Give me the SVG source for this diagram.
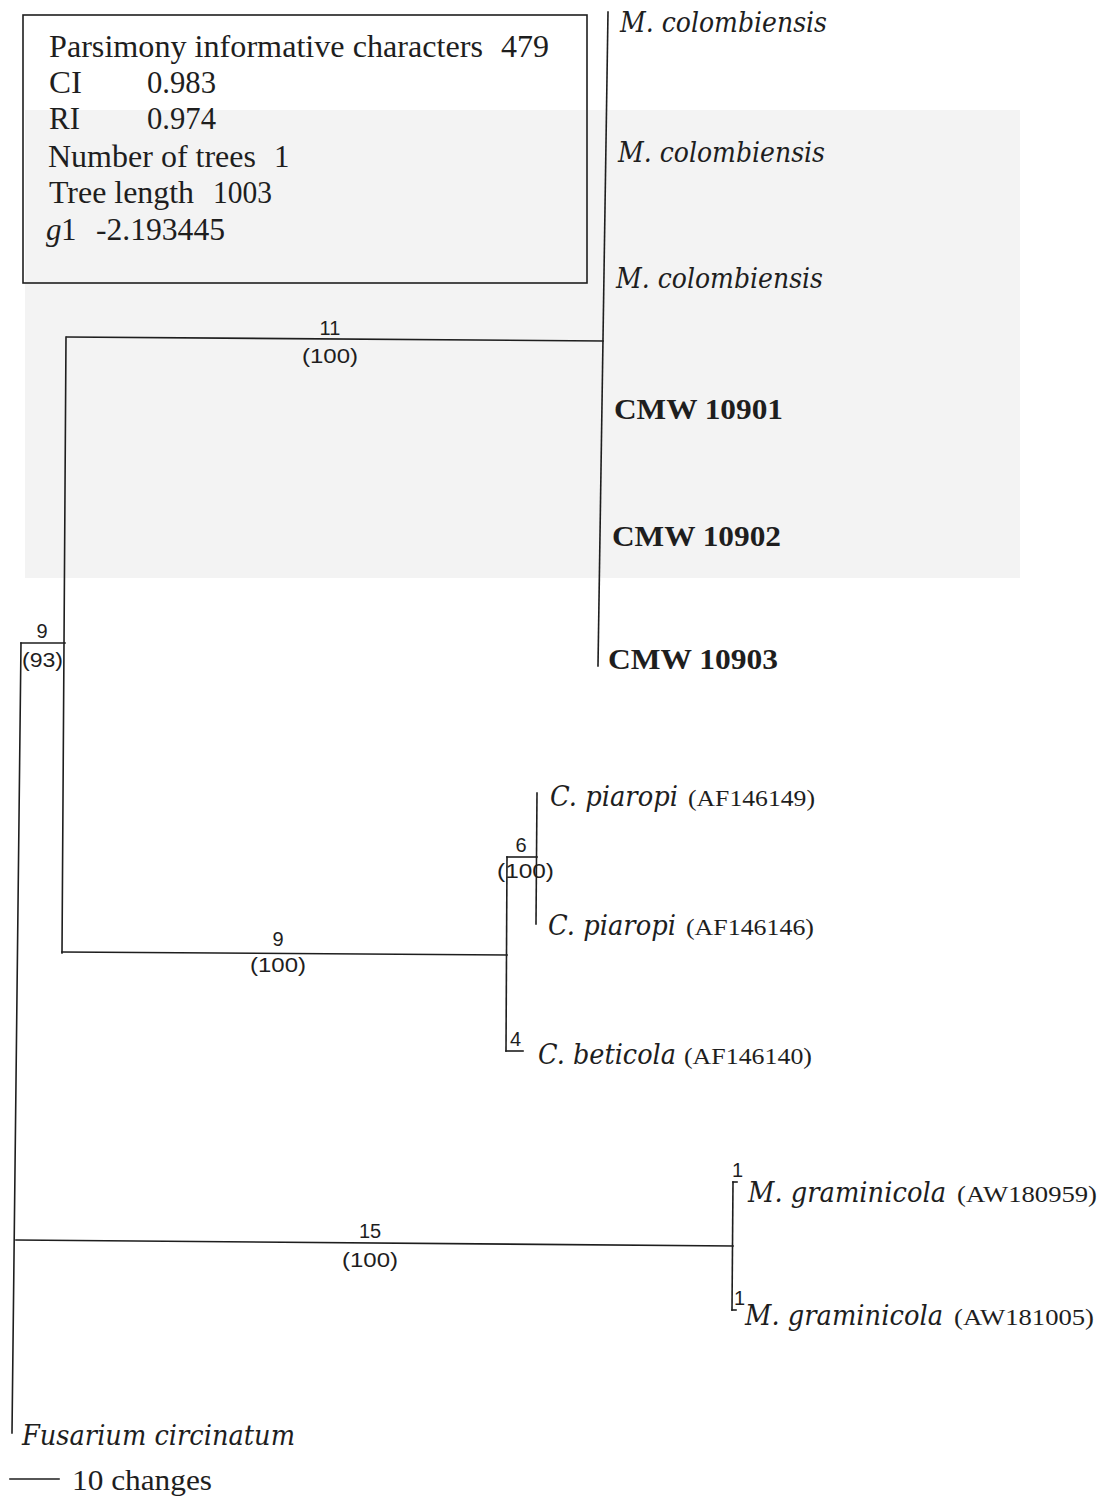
<svg xmlns="http://www.w3.org/2000/svg" width="1105" height="1497" viewBox="0 0 1105 1497">
<style>
.ln{stroke:#1e1e1e;stroke-width:1.6;fill:none;stroke-linecap:square}
.box{font-family:"Liberation Serif","Times New Roman",serif;font-size:31px;fill:#1e1e1e}
.tx{font-family:"DejaVu Serif","Liberation Serif",serif;font-style:italic;font-size:28px;fill:#1e1e1e}
.cmw{font-family:"Liberation Serif","Times New Roman",serif;font-weight:bold;font-size:30px;fill:#1e1e1e}
.acc{font-family:"Liberation Serif","Times New Roman",serif;font-size:23px;fill:#1e1e1e}
.num{font-family:"Liberation Sans",Arial,sans-serif;font-size:20px;fill:#1e1e1e}
.sc{font-family:"Liberation Serif","Times New Roman",serif;font-size:30px;fill:#1e1e1e}
</style>
<rect width="1105" height="1497" fill="#ffffff"/>
<rect x="25" y="110" width="995" height="468" fill="#f3f3f3"/>
<g id="infobox">
<rect x="23" y="15" width="564" height="268" class="ln" fill="none"/>
<text class="box" x="49" y="57" textLength="434" lengthAdjust="spacingAndGlyphs">Parsimony informative characters</text>
<text class="box" x="501" y="57" textLength="48" lengthAdjust="spacingAndGlyphs">479</text>
<text class="box" x="49" y="93" textLength="33" lengthAdjust="spacingAndGlyphs">CI</text>
<text class="box" x="147" y="93" textLength="69" lengthAdjust="spacingAndGlyphs">0.983</text>
<text class="box" x="49" y="129" textLength="31" lengthAdjust="spacingAndGlyphs">RI</text>
<text class="box" x="147" y="129" textLength="69" lengthAdjust="spacingAndGlyphs">0.974</text>
<text class="box" x="48" y="167" textLength="208" lengthAdjust="spacingAndGlyphs">Number of trees</text>
<text class="box" x="274" y="167">1</text>
<text class="box" x="49" y="203" textLength="145" lengthAdjust="spacingAndGlyphs">Tree length</text>
<text class="box" x="213" y="203" textLength="59" lengthAdjust="spacingAndGlyphs">1003</text>
<text class="box" x="46" y="240" font-style="italic">g</text><text class="box" x="61" y="240">1</text>
<text class="box" x="96" y="240" textLength="129" lengthAdjust="spacingAndGlyphs">-2.193445</text>
</g>
<g id="connectors">
<line class="ln" x1="608" y1="12" x2="598" y2="666"/>
<line class="ln" x1="67" y1="337" x2="603" y2="341"/>
<line class="ln" x1="66" y1="337" x2="62" y2="953"/>
<line class="ln" x1="62" y1="952" x2="507" y2="955"/>
<line class="ln" x1="507" y1="857" x2="506" y2="1051"/>
<line class="ln" x1="507" y1="857" x2="537" y2="857"/>
<line class="ln" x1="537" y1="793" x2="536" y2="924"/>
<line class="ln" x1="506" y1="1051" x2="523" y2="1051"/>
<line class="ln" x1="21" y1="643" x2="65" y2="643"/>
<line class="ln" x1="21" y1="643" x2="12" y2="1433"/>
<line class="ln" x1="16" y1="1240" x2="733" y2="1246"/>
<line class="ln" x1="733" y1="1182" x2="732" y2="1310"/>
<line class="ln" x1="733" y1="1182" x2="737" y2="1182"/>
<line class="ln" x1="732" y1="1310" x2="736" y2="1310"/>
<line class="ln" x1="10" y1="1479" x2="59" y2="1479"/>
</g>
<g id="branch-labels">
<text class="num" x="330" y="335" text-anchor="middle">11</text>
<text class="num" x="330" y="363" text-anchor="middle" textLength="56" lengthAdjust="spacingAndGlyphs">(100)</text>
<text class="num" x="42" y="638" text-anchor="middle">9</text>
<text class="num" x="22" y="667" textLength="41" lengthAdjust="spacingAndGlyphs">(93)</text>
<text class="num" x="278" y="946" text-anchor="middle">9</text>
<text class="num" x="278" y="972" text-anchor="middle" textLength="56" lengthAdjust="spacingAndGlyphs">(100)</text>
<text class="num" x="521" y="852" text-anchor="middle">6</text>
<text class="num" x="497" y="878" textLength="57" lengthAdjust="spacingAndGlyphs">(100)</text>
<text class="num" x="510" y="1046">4</text>
<text class="num" x="370" y="1238" text-anchor="middle">15</text>
<text class="num" x="370" y="1267" text-anchor="middle" textLength="56" lengthAdjust="spacingAndGlyphs">(100)</text>
<text class="num" x="732" y="1177" font-size="17">1</text>
<text class="num" x="734" y="1305" font-size="17">1</text>
</g>
<g id="taxon-mc1"><text class="tx" x="620" y="32" textLength="207" lengthAdjust="spacingAndGlyphs">M. colombiensis</text></g>
<g id="taxon-mc2"><text class="tx" x="618" y="162" textLength="207" lengthAdjust="spacingAndGlyphs">M. colombiensis</text></g>
<g id="taxon-mc3"><text class="tx" x="616" y="288" textLength="207" lengthAdjust="spacingAndGlyphs">M. colombiensis</text></g>
<g id="taxon-cmw10901"><text class="cmw" x="614" y="419" textLength="169" lengthAdjust="spacingAndGlyphs">CMW 10901</text></g>
<g id="taxon-cmw10902"><text class="cmw" x="612" y="546" textLength="169" lengthAdjust="spacingAndGlyphs">CMW 10902</text></g>
<g id="taxon-cmw10903"><text class="cmw" x="608" y="669" textLength="170" lengthAdjust="spacingAndGlyphs">CMW 10903</text></g>
<g id="taxon-cp1"><text class="tx" x="550" y="806" textLength="128" lengthAdjust="spacingAndGlyphs">C. piaropi</text><text class="acc" x="688" y="806" textLength="127" lengthAdjust="spacingAndGlyphs">(AF146149)</text></g>
<g id="taxon-cp2"><text class="tx" x="548" y="935" textLength="128" lengthAdjust="spacingAndGlyphs">C. piaropi</text><text class="acc" x="686" y="935" textLength="128" lengthAdjust="spacingAndGlyphs">(AF146146)</text></g>
<g id="taxon-cb"><text class="tx" x="538" y="1064" textLength="138" lengthAdjust="spacingAndGlyphs">C. beticola</text><text class="acc" x="684" y="1064" textLength="128" lengthAdjust="spacingAndGlyphs">(AF146140)</text></g>
<g id="taxon-mg1"><text class="tx" x="748" y="1202" textLength="198" lengthAdjust="spacingAndGlyphs">M. graminicola</text><text class="acc" x="957" y="1202" textLength="140" lengthAdjust="spacingAndGlyphs">(AW180959)</text></g>
<g id="taxon-mg2"><text class="tx" x="745" y="1325" textLength="198" lengthAdjust="spacingAndGlyphs">M. graminicola</text><text class="acc" x="954" y="1325" textLength="140" lengthAdjust="spacingAndGlyphs">(AW181005)</text></g>
<g id="taxon-fc"><text class="tx" x="22" y="1445" textLength="273" lengthAdjust="spacingAndGlyphs">Fusarium circinatum</text></g>
<g id="scalebar"><text class="sc" x="72" y="1490" textLength="140" lengthAdjust="spacingAndGlyphs">10 changes</text></g>
</svg>
